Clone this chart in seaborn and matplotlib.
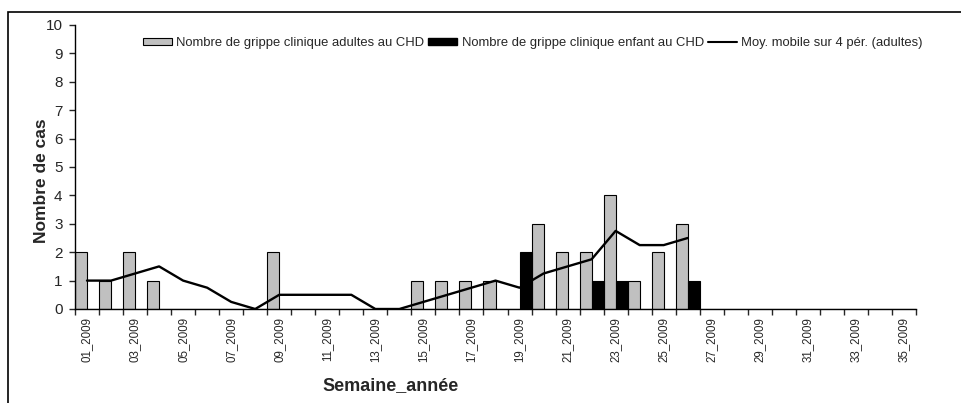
import matplotlib
matplotlib.use("Agg")
import matplotlib.pyplot as plt
import seaborn as sns
import pandas as pd
import numpy as np
from matplotlib.patches import Rectangle, Patch
from matplotlib.lines import Line2D

weeks = [f"{i:02d}_2009" for i in range(1, 36)]
adultes = [2, 1, 2, 1, 0, 0, 0, 0, 2, 0, 0, 0, 0, 0, 1, 1, 1, 1, 0, 3, 2, 2, 4, 1, 2, 3,
           0, 0, 0, 0, 0, 0, 0, 0, 0]
enfants = [0, 0, 0, 0, 0, 0, 0, 0, 0, 0, 0, 0, 0, 0, 0, 0, 0, 0, 2, 0, 0, 1, 1, 0, 0, 1,
           0, 0, 0, 0, 0, 0, 0, 0, 0]
moy_mobile = [1.0, 1.0, 1.25, 1.5, 1.0, 0.75, 0.25, 0.0, 0.5, 0.5, 0.5, 0.5, 0.0, 0.0,
              0.25, 0.5, 0.75, 1.0, 0.75, 1.25, 1.5, 1.75, 2.75, 2.25, 2.25, 2.5]

lab_adultes = "Nombre de grippe clinique adultes au CHD"
lab_enfants = "Nombre de grippe clinique enfant au CHD"
lab_moy = "Moy. mobile sur 4 pér. (adultes)"

sns.set_style("white")
plt.rcParams['font.family'] = ['Liberation Sans', 'DejaVu Sans']

df = pd.DataFrame({
    "semaine": weeks * 2,
    "cas": adultes + enfants,
    "serie": [lab_adultes] * len(weeks) + [lab_enfants] * len(weeks),
})

fig = plt.figure(figsize=(9.62, 4.03), dpi=100)
ax = fig.add_axes([75 / 962, 94 / 403, (916 - 75) / 962, (309 - 25) / 403])

sns.barplot(data=df, x="semaine", y="cas", hue="serie", order=weeks,
            hue_order=[lab_adultes, lab_enfants],
            palette=["#C0C0C0", "#000000"], width=1.0, dodge=True,
            edgecolor="black", linewidth=0.8, ax=ax, legend=False)

sns.lineplot(x=np.arange(len(moy_mobile)), y=moy_mobile, color="black",
             linewidth=1.7, ax=ax, legend=False)

ax.set_xlim(-0.5, len(weeks) - 0.5)
ax.set_ylim(0, 10)
ax.set_yticks(range(0, 11))
ax.tick_params(axis="y", labelsize=11, length=4, width=1, direction="out", left=True, pad=5)

ax.set_xticks(range(0, len(weeks), 2))
ax.set_xticklabels([weeks[i] for i in range(0, len(weeks), 2)], rotation=90, fontsize=8.3)
ax.set_xticks(np.arange(-0.5, len(weeks), 1.0), minor=True)
ax.tick_params(axis="x", which="major", length=0, pad=6)
ax.tick_params(axis="x", which="minor", length=4, width=1, direction="out", bottom=True)

for s in ["top", "right"]:
    ax.spines[s].set_visible(False)
for s in ["left", "bottom"]:
    ax.spines[s].set_color("black")
    ax.spines[s].set_linewidth(1)

ax.set_xlabel("")
ax.set_ylabel("")
fig.text(391 / 962, 1 - 386 / 403, "Semaine_année", ha="center", va="center",
         fontsize=13, fontweight="bold")
fig.text(42 / 962, 1 - 181 / 403, "Nombre de cas", ha="center", va="center",
         rotation=90, fontsize=12.5, fontweight="bold")

handles = [Patch(facecolor="#C0C0C0", edgecolor="black", linewidth=0.8),
           Patch(facecolor="black", edgecolor="black"),
           Line2D([0], [0], color="black", linewidth=1.5)]
fig.legend(handles, [lab_adultes, lab_enfants, lab_moy], loc="center left",
           bbox_to_anchor=(143 / 962, 1 - 43 / 403), ncol=3, frameon=False,
           fontsize=9.4, handlelength=2.2, handleheight=0.45, handletextpad=0.35,
           columnspacing=0.3, borderaxespad=0, borderpad=0)

fig.patches.append(Rectangle((8 / 962, -0.05), 1.1, 1 - 12 / 403 + 0.05,
                             transform=fig.transFigure, fill=False,
                             edgecolor="black", linewidth=1.2, clip_on=False))

fig.savefig("out.png", dpi=100)
